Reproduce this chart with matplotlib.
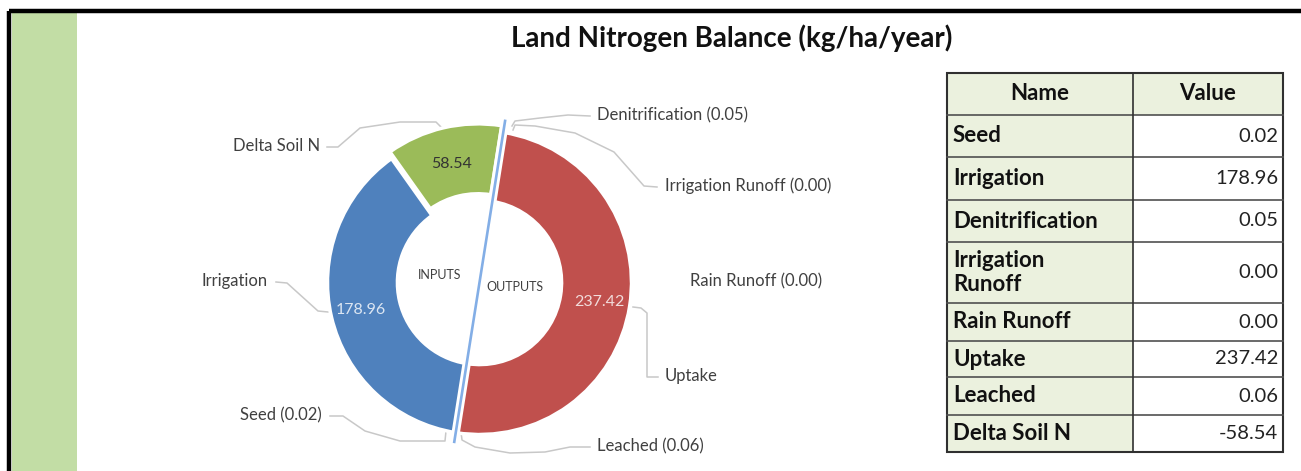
import matplotlib
matplotlib.use('Agg')
import matplotlib.pyplot as plt
import numpy as np

plt.rcParams['font.family'] = ['Lato', 'DejaVu Sans']

# data
input_names = ['Seed', 'Irrigation', 'Delta Soil N']
input_values = [0.02, 178.96, 58.54]
output_names = ['Denitrification', 'Irrigation Runoff', 'Rain Runoff', 'Uptake', 'Leached']
output_values = [0.05, 0.00, 0.00, 237.42, 0.06]

table_names = ['Seed', 'Irrigation', 'Denitrification', 'Irrigation\nRunoff',
               'Rain Runoff', 'Uptake', 'Leached', 'Delta Soil N']
table_values = [0.02, 178.96, 0.05, 0.00, 0.00, 237.42, 0.06, -58.54]

input_colors = ['#4F81BD', '#4F81BD', '#9BBB59']
output_colors = ['#C0504D', '#C0504D', '#C0504D', '#C0504D', '#C0504D']

W, H = 1301, 471
fig = plt.figure(figsize=(W / 100, H / 100), dpi=100)

# background / frame axes in pixel coordinates
bg = fig.add_axes([0, 0, 1, 1])
bg.set_xlim(0, W)
bg.set_ylim(H, 0)
bg.axis('off')

bg.add_patch(plt.Rectangle((12, 13), 65, H - 13, color='#C2DDA5', lw=0))
bg.plot([9, 9], [11, H], color='black', lw=3.2, solid_capstyle='butt')
bg.plot([9, W], [11, 11], color='black', lw=3.2, solid_capstyle='butt')

bg.text(732, 38, 'Land Nitrogen Balance (kg/ha/year)', ha='center', va='center',
        fontsize=20, fontweight='bold', color='#111111')

# donut
cx, cy, R = 479.5, 282.5, 152
ax = fig.add_axes([(cx - R) / W, (H - cy - R) / H, 2 * R / W, 2 * R / H])
start = 261
pie_vals = input_values + output_values
pie_cols = input_colors + output_colors
explode = [0, 0, 0.045, 0, 0, 0, 0, 0]
wedges, _ = ax.pie(pie_vals, colors=pie_cols, startangle=start, counterclock=False,
                   explode=explode, radius=1,
                   wedgeprops=dict(width=0.46, edgecolor='white', linewidth=2.5))
ax.set_xlim(-1, 1)
ax.set_ylim(-1, 1)
ax.set_aspect('equal')
ax.axis('off')

# value labels inside the big slices
for i, txtcol in [(1, '#DCE6F2'), (2, '#333333'), (6, '#F2DCDB')]:
    w = wedges[i]
    mid = np.deg2rad((w.theta1 + w.theta2) / 2)
    ax.text(0.8 * np.cos(mid), 0.8 * np.sin(mid), '%.2f' % pie_vals[i],
            ha='center', va='center', fontsize=11.5, color=txtcol)

# line between inputs and outputs
a = np.deg2rad(start - 360 * sum(input_values) / sum(pie_vals))
d = np.array([np.cos(a), np.sin(a)])
ax.plot([-1.0 * d[0], 1.0 * d[0]], [-1.0 * d[1], 1.0 * d[1]], color='white', lw=6, clip_on=False)
ax.plot([-1.07 * d[0], 1.085 * d[0]], [-1.07 * d[1], 1.085 * d[1]], color='#83AEE6', lw=1.9,
        clip_on=False, solid_capstyle='butt')

ax.text(-0.26, 0.05, 'INPUTS', ha='center', va='center', fontsize=9, color='#404040')
ax.text(0.23, -0.03, 'OUTPUTS', ha='center', va='center', fontsize=9, color='#404040')

# category labels with leader lines
lbl_col = '#404040'
lead_col = '#C8C8C8'
labels = [
    ('Delta Soil N', 320, 146, 'right',
     [(327, 147), (338, 147), (360, 128), (400, 122), (436, 122), (442, 128)]),
    ('Irrigation', 268, 281, 'right',
     [(276, 282), (287, 283), (318, 311), (328, 312)]),
    ('Seed (0.02)', 322, 415, 'right',
     [(330, 416), (343, 416), (365, 431), (400, 441), (445, 441), (446, 431)]),
    ('Denitrification (0.05)', 597, 115, 'left',
     [(590, 116), (568, 115), (540, 118), (515, 121), (512, 126)]),
    ('Irrigation Runoff (0.00)', 665, 186, 'left',
     [(657, 187), (644, 186), (614, 152), (575, 133), (535, 126), (515, 125), (513, 130)]),
    ('Rain Runoff (0.00)', 690, 281, 'left', []),
    ('Uptake', 665, 376, 'left',
     [(658, 377), (647, 377), (647, 313), (641, 308), (633, 307)]),
    ('Leached (0.06)', 597, 446, 'left',
     [(590, 447), (570, 447), (545, 452), (510, 453), (475, 447), (462, 440), (461, 432)]),
]
for txt, x, y, ha, pts in labels:
    bg.text(x, y, txt, ha=ha, va='center', fontsize=12, color=lbl_col)
    if pts:
        xs, ys = zip(*pts)
        bg.plot(xs, ys, color=lead_col, lw=1.1)

# table on the right
x0, xm, x1 = 947, 1133, 1283
rows = [73, 115, 157, 200, 242, 303, 341, 377, 415, 452]
fill = '#EBF1DE'
bg.add_patch(plt.Rectangle((x0, rows[0]), x1 - x0, rows[1] - rows[0], color=fill, lw=0))
bg.add_patch(plt.Rectangle((x0, rows[1]), xm - x0, rows[-1] - rows[1], color=fill, lw=0))
for yy in rows[1:-1]:
    bg.plot([x0, x1], [yy, yy], color='#505050', lw=1.2)
bg.plot([xm, xm], [rows[0], rows[-1]], color='#303030', lw=1.2)
bg.add_patch(plt.Rectangle((x0, rows[0]), x1 - x0, rows[-1] - rows[0], fill=False,
                           ec='#303030', lw=1.5))
bg.text((x0 + xm) / 2, (rows[0] + rows[1]) / 2, 'Name', ha='center', va='center',
        fontsize=16, fontweight='bold', color='#111111')
bg.text((xm + x1) / 2, (rows[0] + rows[1]) / 2, 'Value', ha='center', va='center',
        fontsize=16, fontweight='bold', color='#111111')
for i, (nm, v) in enumerate(zip(table_names, table_values)):
    ymid = (rows[i + 1] + rows[i + 2]) / 2
    bg.text(x0 + 6, ymid, nm, ha='left', va='center', fontsize=16, fontweight='bold',
            color='#111111', linespacing=1.15)
    bg.text(x1 - 5, ymid, '%.2f' % v, ha='right', va='center', fontsize=14.5,
            color='#222222')

fig.savefig('out.png', dpi=100)
